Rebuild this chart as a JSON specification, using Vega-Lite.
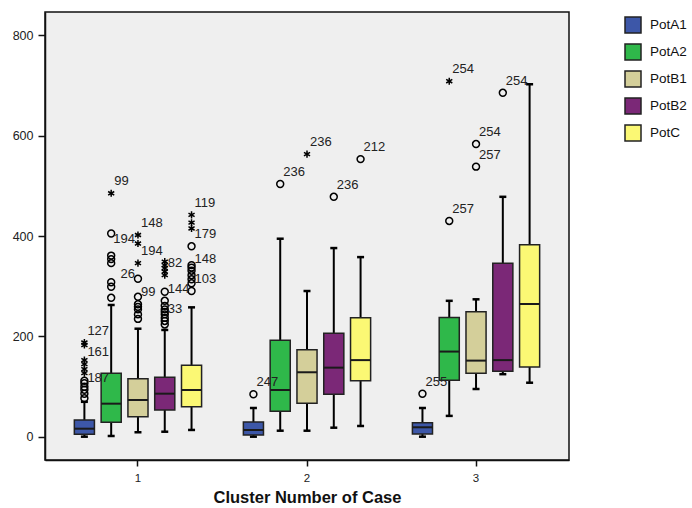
{
  "$schema": "https://vega.github.io/schema/vega-lite/v6.json",
  "autosize": {"type": "none"},
  "width": 524,
  "height": 448,
  "padding": {"left": 45, "top": 12, "right": 123, "bottom": 48},
  "background": "#ffffff",
  "config": {
    "font": "Liberation Sans",
    "view": {"fill": "#efefef", "stroke": "#111111", "strokeWidth": 1.5},
    "axis": {"grid": false, "domainColor": "#111111", "domainWidth": 1.5, "tickColor": "#111111", "tickWidth": 1.5, "labelColor": "#222222", "labelFont": "Liberation Sans"}
  },
  "datasets": {
    "boxes": [
      {"cluster": "1", "var": "PotA1", "lower": 0.6, "q1": 5.4, "median": 16.5, "q3": 34, "upper": 70},
      {"cluster": "1", "var": "PotA2", "lower": 2, "q1": 29.3, "median": 66.3, "q3": 126.8, "upper": 262.7},
      {"cluster": "1", "var": "PotB1", "lower": 9.4, "q1": 40.4, "median": 73.6, "q3": 116, "upper": 215.5},
      {"cluster": "1", "var": "PotB2", "lower": 10.5, "q1": 53.7, "median": 86.2, "q3": 118.8, "upper": 213},
      {"cluster": "1", "var": "PotC", "lower": 14, "q1": 60.3, "median": 93.5, "q3": 142.7, "upper": 258},
      {"cluster": "2", "var": "PotA1", "lower": 0.6, "q1": 4, "median": 13.9, "q3": 29.9, "upper": 57.7},
      {"cluster": "2", "var": "PotA2", "lower": 12.5, "q1": 51, "median": 93.5, "q3": 192.4, "upper": 394.6},
      {"cluster": "2", "var": "PotB1", "lower": 12.5, "q1": 67, "median": 128.8, "q3": 173.7, "upper": 290.5},
      {"cluster": "2", "var": "PotB2", "lower": 18.5, "q1": 85, "median": 138, "q3": 206.4, "upper": 376},
      {"cluster": "2", "var": "PotC", "lower": 21.9, "q1": 112, "median": 153, "q3": 237.4, "upper": 358},
      {"cluster": "3", "var": "PotA1", "lower": 0.6, "q1": 6, "median": 19.3, "q3": 28.5, "upper": 57.7},
      {"cluster": "3", "var": "PotA2", "lower": 42, "q1": 113, "median": 170, "q3": 238, "upper": 271},
      {"cluster": "3", "var": "PotB1", "lower": 95.5, "q1": 127, "median": 152, "q3": 249, "upper": 274},
      {"cluster": "3", "var": "PotB2", "lower": 125, "q1": 130.7, "median": 153, "q3": 345.7, "upper": 478},
      {"cluster": "3", "var": "PotC", "lower": 108, "q1": 139.3, "median": 264.7, "q3": 382.7, "upper": 702}
    ],
    "outliers": [
      {"cluster": "1", "var": "PotA1", "value": 77, "kind": "o", "label": ""},
      {"cluster": "1", "var": "PotA1", "value": 86, "kind": "o", "label": ""},
      {"cluster": "1", "var": "PotA1", "value": 94, "kind": "o", "label": "187"},
      {"cluster": "1", "var": "PotA1", "value": 100, "kind": "o", "label": ""},
      {"cluster": "1", "var": "PotA1", "value": 107, "kind": "o", "label": ""},
      {"cluster": "1", "var": "PotA1", "value": 112, "kind": "o", "label": ""},
      {"cluster": "1", "var": "PotA1", "value": 127, "kind": "*", "label": ""},
      {"cluster": "1", "var": "PotA1", "value": 135, "kind": "*", "label": ""},
      {"cluster": "1", "var": "PotA1", "value": 145, "kind": "*", "label": "161"},
      {"cluster": "1", "var": "PotA1", "value": 153, "kind": "*", "label": ""},
      {"cluster": "1", "var": "PotA1", "value": 183, "kind": "*", "label": ""},
      {"cluster": "1", "var": "PotA1", "value": 188, "kind": "*", "label": "127"},
      {"cluster": "1", "var": "PotA2", "value": 277, "kind": "o", "label": ""},
      {"cluster": "1", "var": "PotA2", "value": 299, "kind": "o", "label": ""},
      {"cluster": "1", "var": "PotA2", "value": 308, "kind": "o", "label": ""},
      {"cluster": "1", "var": "PotA2", "value": 346, "kind": "o", "label": ""},
      {"cluster": "1", "var": "PotA2", "value": 354, "kind": "o", "label": ""},
      {"cluster": "1", "var": "PotA2", "value": 361, "kind": "o", "label": ""},
      {"cluster": "1", "var": "PotA2", "value": 405, "kind": "o", "label": ""},
      {"cluster": "1", "var": "PotA2", "value": 485, "kind": "*", "label": "99"},
      {"cluster": "1", "var": "PotB1", "value": 235, "kind": "o", "label": ""},
      {"cluster": "1", "var": "PotB1", "value": 244, "kind": "o", "label": ""},
      {"cluster": "1", "var": "PotB1", "value": 254, "kind": "o", "label": ""},
      {"cluster": "1", "var": "PotB1", "value": 259, "kind": "o", "label": ""},
      {"cluster": "1", "var": "PotB1", "value": 264, "kind": "o", "label": "99"},
      {"cluster": "1", "var": "PotB1", "value": 279, "kind": "o", "label": ""},
      {"cluster": "1", "var": "PotB1", "value": 315, "kind": "o", "label": "26"},
      {"cluster": "1", "var": "PotB1", "value": 346, "kind": "*", "label": "194"},
      {"cluster": "1", "var": "PotB1", "value": 385, "kind": "*", "label": "194"},
      {"cluster": "1", "var": "PotB1", "value": 402, "kind": "*", "label": "148"},
      {"cluster": "1", "var": "PotB2", "value": 224, "kind": "o", "label": ""},
      {"cluster": "1", "var": "PotB2", "value": 231, "kind": "o", "label": "33"},
      {"cluster": "1", "var": "PotB2", "value": 237, "kind": "o", "label": ""},
      {"cluster": "1", "var": "PotB2", "value": 244, "kind": "o", "label": ""},
      {"cluster": "1", "var": "PotB2", "value": 249, "kind": "o", "label": ""},
      {"cluster": "1", "var": "PotB2", "value": 254, "kind": "o", "label": ""},
      {"cluster": "1", "var": "PotB2", "value": 261, "kind": "o", "label": ""},
      {"cluster": "1", "var": "PotB2", "value": 271, "kind": "o", "label": "144"},
      {"cluster": "1", "var": "PotB2", "value": 289, "kind": "o", "label": ""},
      {"cluster": "1", "var": "PotB2", "value": 322, "kind": "*", "label": "82"},
      {"cluster": "1", "var": "PotB2", "value": 329, "kind": "*", "label": ""},
      {"cluster": "1", "var": "PotB2", "value": 336, "kind": "*", "label": ""},
      {"cluster": "1", "var": "PotB2", "value": 342, "kind": "*", "label": ""},
      {"cluster": "1", "var": "PotB2", "value": 349, "kind": "*", "label": ""},
      {"cluster": "1", "var": "PotC", "value": 290.5, "kind": "o", "label": "103"},
      {"cluster": "1", "var": "PotC", "value": 306, "kind": "o", "label": ""},
      {"cluster": "1", "var": "PotC", "value": 314, "kind": "o", "label": ""},
      {"cluster": "1", "var": "PotC", "value": 322, "kind": "o", "label": ""},
      {"cluster": "1", "var": "PotC", "value": 331, "kind": "o", "label": "148"},
      {"cluster": "1", "var": "PotC", "value": 337, "kind": "o", "label": ""},
      {"cluster": "1", "var": "PotC", "value": 342, "kind": "o", "label": ""},
      {"cluster": "1", "var": "PotC", "value": 379.5, "kind": "o", "label": "179"},
      {"cluster": "1", "var": "PotC", "value": 415, "kind": "*", "label": ""},
      {"cluster": "1", "var": "PotC", "value": 426.5, "kind": "*", "label": ""},
      {"cluster": "1", "var": "PotC", "value": 442, "kind": "*", "label": "119"},
      {"cluster": "2", "var": "PotA1", "value": 85, "kind": "o", "label": "247"},
      {"cluster": "2", "var": "PotA2", "value": 503.5, "kind": "o", "label": "236"},
      {"cluster": "2", "var": "PotB1", "value": 563, "kind": "*", "label": "236"},
      {"cluster": "2", "var": "PotB2", "value": 478, "kind": "o", "label": "236"},
      {"cluster": "2", "var": "PotC", "value": 553, "kind": "o", "label": "212"},
      {"cluster": "3", "var": "PotA1", "value": 86, "kind": "o", "label": "255"},
      {"cluster": "3", "var": "PotA2", "value": 430, "kind": "o", "label": "257"},
      {"cluster": "3", "var": "PotA2", "value": 708, "kind": "*", "label": "254"},
      {"cluster": "3", "var": "PotB1", "value": 538, "kind": "o", "label": "257"},
      {"cluster": "3", "var": "PotB1", "value": 583, "kind": "o", "label": "254"},
      {"cluster": "3", "var": "PotB2", "value": 685, "kind": "o", "label": "254"}
    ]
  },
  "encoding": {
    "x": {
      "field": "cluster", "type": "nominal",
      "scale": {"type": "band", "paddingInner": 0, "paddingOuter": 0.05},
      "axis": {"title": "Cluster Number of Case", "titleFont": "Liberation Sans", "titleFontSize": 16.5, "titleFontWeight": "bold", "titleColor": "#111111", "titlePadding": 6, "labelAngle": 0, "labelFontSize": 11.5, "labelPadding": 6, "tickSize": 6}
    },
    "xOffset": {
      "field": "var", "type": "nominal",
      "scale": {"domain": ["PotA1", "PotA2", "PotB1", "PotB2", "PotC"], "paddingInner": 0.25, "paddingOuter": 0.78}
    }
  },
  "layer": [
    {
      "data": {"name": "boxes"},
      "mark": {"type": "rule", "color": "#000000", "strokeWidth": 2},
      "encoding": {
        "y": {"field": "lower", "type": "quantitative", "scale": {"domain": [-45.8, 845.8], "nice": false, "zero": false},
          "axis": {"title": null, "values": [0, 200, 400, 600, 800], "labelFontSize": 12.5, "tickSize": 7, "labelPadding": 5}},
        "y2": {"field": "upper"}
      }
    },
    {
      "data": {"name": "boxes"},
      "mark": {"type": "tick", "color": "#000000", "size": 7, "thickness": 2.5, "opacity": 1},
      "encoding": {"y": {"field": "lower", "type": "quantitative"}}
    },
    {
      "data": {"name": "boxes"},
      "mark": {"type": "tick", "color": "#000000", "size": 7, "thickness": 2.5, "opacity": 1},
      "encoding": {"y": {"field": "upper", "type": "quantitative"}}
    },
    {
      "data": {"name": "boxes"},
      "mark": {"type": "bar", "stroke": "#222222", "strokeWidth": 1.5, "opacity": 1},
      "encoding": {
        "y": {"field": "q1", "type": "quantitative"},
        "y2": {"field": "q3"},
        "fill": {
          "field": "var", "type": "nominal",
          "scale": {"domain": ["PotA1", "PotA2", "PotB1", "PotB2", "PotC"], "range": ["#3d57a8", "#2fb84a", "#d4cf9a", "#7b2877", "#fbf874"]},
          "legend": {"title": null, "orient": "none", "legendX": 579, "legendY": 4, "symbolType": "square", "symbolSize": 256, "symbolStrokeColor": "#222222", "symbolStrokeWidth": 1.5, "symbolOpacity": 1, "labelFontSize": 13.5, "labelColor": "#111111", "labelFont": "Liberation Sans", "labelOffset": 8, "rowPadding": 5}
        }
      }
    },
    {
      "data": {"name": "boxes"},
      "mark": {"type": "tick", "color": "#1a1a1a", "size": 20, "thickness": 2, "opacity": 1},
      "encoding": {"y": {"field": "median", "type": "quantitative"}}
    },
    {
      "data": {"name": "outliers"},
      "transform": [{"filter": "datum.kind == 'o'"}],
      "mark": {"type": "point", "shape": "circle", "filled": false, "stroke": "#000000", "strokeWidth": 1.5, "size": 48, "opacity": 1},
      "encoding": {"y": {"field": "value", "type": "quantitative"}}
    },
    {
      "data": {"name": "outliers"},
      "transform": [{"filter": "datum.kind == '*'"}],
      "mark": {"type": "point", "shape": "M0,-1L0,1M-0.866,-0.5L0.866,0.5M-0.866,0.5L0.866,-0.5", "filled": false, "stroke": "#000000", "strokeWidth": 1.5, "size": 50, "opacity": 1},
      "encoding": {"y": {"field": "value", "type": "quantitative"}}
    },
    {
      "data": {"name": "outliers"},
      "transform": [{"filter": "datum.label != '' && !(datum.cluster == '1' && datum.var == 'PotB1' && (datum.value == 385 || datum.value == 315))"}],
      "mark": {"type": "text", "align": "left", "baseline": "middle", "dx": 3, "dy": -12, "fontSize": 13, "color": "#222222", "font": "Liberation Sans"},
      "encoding": {"y": {"field": "value", "type": "quantitative"}, "text": {"field": "label"}}
    },
    {
      "data": {"name": "outliers"},
      "transform": [{"filter": "datum.cluster == '1' && datum.var == 'PotB1' && (datum.value == 385 || datum.value == 315)"}],
      "mark": {"type": "text", "align": "right", "baseline": "middle", "dx": -3, "dy": -5, "fontSize": 13, "color": "#222222", "font": "Liberation Sans"},
      "encoding": {"y": {"field": "value", "type": "quantitative"}, "text": {"field": "label"}}
    }
  ]
}
